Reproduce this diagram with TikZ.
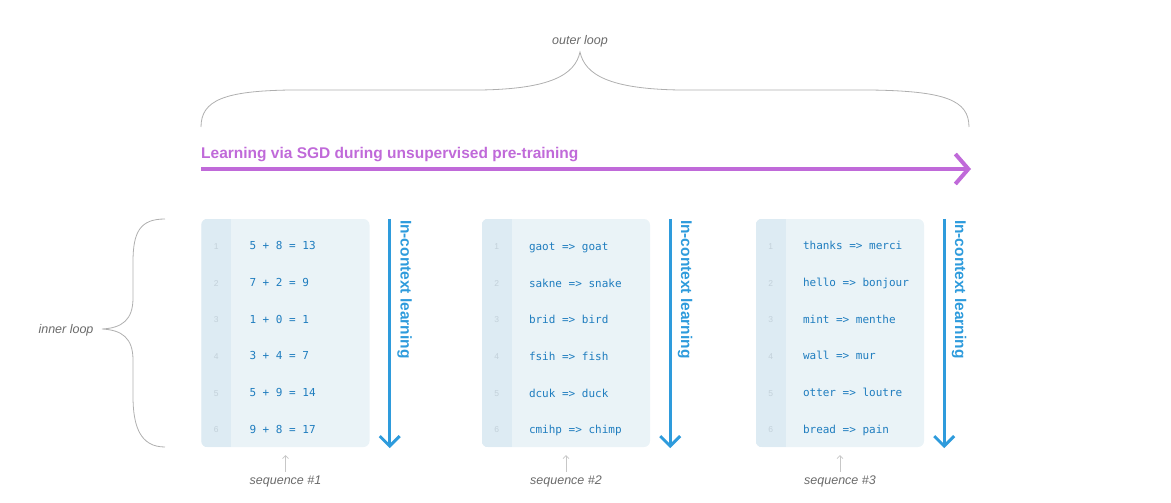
\documentclass[tikz,border=0pt]{standalone}
\usepackage{fontspec}
\setmainfont{Liberation Sans}
\setmonofont{DejaVu Sans Mono}
\usepackage{tikz}
\usetikzlibrary{arrows.meta,positioning,calc}
\definecolor{sgdpurple}{HTML}{C06AD9}
\definecolor{iclblue}{HTML}{2E9BDC}
\definecolor{codeblue}{HTML}{1F7DBF}
\definecolor{boxbg}{HTML}{EAF3F7}
\definecolor{gutterbg}{HTML}{DDEBF3}
\definecolor{linenum}{HTML}{C3D1DA}
\definecolor{bracegray}{HTML}{AFAFAF}
\definecolor{notegray}{HTML}{6A6A6A}
\tikzstyle{seqbox}=[fill=boxbg, rounded corners=6pt, minimum width=168pt, minimum height=228pt, inner sep=0pt]
\tikzstyle{codeline}=[font=\fontsize{11}{13}\selectfont\ttfamily, text=codeblue, anchor=base west, inner sep=0pt]
\tikzstyle{lineno}=[font=\fontsize{8.5}{9}\selectfont, text=linenum, anchor=base, inner sep=0pt]
\tikzstyle{note}=[font=\fontsize{12.5}{15}\selectfont\itshape, text=notegray]
\tikzstyle{brace}=[draw=bracegray, line width=0.8pt]
\tikzstyle{sgdarrow}=[draw=sgdpurple, line width=4pt, -{Straight Barb[length=13pt,width=30pt]}]
\tikzstyle{sgdtext}=[font=\fontsize{15.5}{18}\selectfont\bfseries, text=sgdpurple, anchor=west, inner sep=0pt]
\tikzstyle{icl}=[draw=iclblue, line width=3pt, -{Straight Barb[length=10pt,width=20pt]}]
\tikzstyle{icltext}=[font=\fontsize{15.5}{18}\selectfont\bfseries, text=iclblue, rotate=-90, anchor=west, inner sep=0pt]
\tikzstyle{seqarrow}=[draw=bracegray!70, line width=0.6pt, -{Straight Barb[length=3pt,width=6pt]}, shorten >=8pt]

\begin{document}
\begin{tikzpicture}[x=1pt,y=-1pt]
\useasboundingbox (0,0) rectangle (1171,503);

% outer loop
\node[note] (outer) at (580,41) {outer loop};
\draw[brace] (201,127) .. controls (201,100) and (225,91) .. (290,90) -- (480,90)
  .. controls (550,89) and (575,75) .. (580,52)
  .. controls (585,75) and (610,89) .. (680,90) -- (870,90)
  .. controls (945,91) and (969,100) .. (969,127);

% pre-training arrow
\node[sgdtext] (sgd) at (201,155) {Learning via SGD during unsupervised pre-training};
\coordinate (sgdstart) at (201,169);
\coordinate (sgdend) at (971,169);
\draw[sgdarrow] (sgdstart) -- (sgdend);

% inner loop
\node[note, anchor=east] (inner) at (97,330) {inner loop};
\draw[brace] (165,219) .. controls (140,219) and (133,232) .. (133,262) -- (133,298)
  .. controls (133,320) and (122,328) .. (102,329)
  .. controls (122,330) and (133,338) .. (133,360) -- (133,396)
  .. controls (133,426) and (140,447) .. (165,447);

% sequences
\foreach \n/\x in {1/285.5, 2/566, 3/840} {
  \node[seqbox] (seq\n) at (\x,333) {};
  \begin{scope}
    \clip[rounded corners=6pt] (seq\n.south west) rectangle (seq\n.north east);
    \fill[gutterbg] (seq\n.south west) rectangle ($(seq\n.north west)+(30,0)$);
  \end{scope}
  \coordinate (icltop\n) at ($(seq\n.north east)+(20,0)$);
  \coordinate (iclbot\n) at ($(seq\n.south east)+(20,1)$);
  \draw[icl] (icltop\n) -- (iclbot\n);
  \node[icltext] (icl\n) at ($(seq\n.north east)+(35,1)$) {In-context learning};
  \node[note] (lbl\n) at (\x,481) {sequence \#\n};
  \draw[seqarrow] (lbl\n) -- (seq\n);
}

\foreach \i/\txt in {1/5 + 8 = 13, 2/7 + 2 = 9, 3/1 + 0 = 1, 4/3 + 4 = 7, 5/5 + 9 = 14, 6/9 + 8 = 17} {
  \node[lineno] (a\i) at ($(seq1.north west)+(15,{30.5+36.7*(\i-1)})$) {\i};
  \node[codeline] (ca\i) at ($(seq1.north west)+(48,{31+36.7*(\i-1)})$) {\txt};
}
\foreach \i/\txt in {1/gaot => goat, 2/sakne => snake, 3/brid => bird, 4/fsih => fish, 5/dcuk => duck, 6/cmihp => chimp} {
  \node[lineno] (b\i) at ($(seq2.north west)+(15,{30.5+36.7*(\i-1)})$) {\i};
  \node[codeline] (cb\i) at ($(seq2.north west)+(47,{31.5+36.7*(\i-1)})$) {\txt};
}
\foreach \i/\txt in {1/thanks => merci, 2/hello => bonjour, 3/mint => menthe, 4/wall => mur, 5/otter => loutre, 6/bread => pain} {
  \node[lineno] (c\i) at ($(seq3.north west)+(15,{30.5+36.7*(\i-1)})$) {\i};
  \node[codeline] (cc\i) at ($(seq3.north west)+(47,{31+36.7*(\i-1)})$) {\txt};
}
\end{tikzpicture}
\end{document}
